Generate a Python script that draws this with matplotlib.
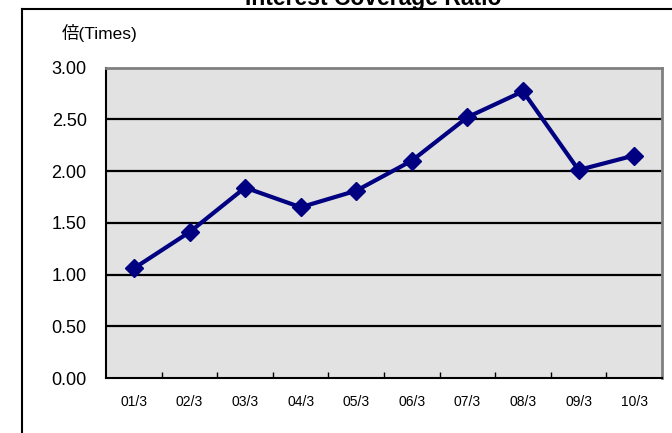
import numpy as np
from matplotlib import pyplot as plt
from matplotlib.lines import Line2D

plt.rcParams['font.family'] = ['Liberation Sans', 'Noto Sans CJK JP', 'DejaVu Sans']

periods = ['01/3', '02/3', '03/3', '04/3', '05/3', '06/3', '07/3', '08/3', '09/3', '10/3']
coverage = [1.06, 1.41, 1.84, 1.65, 1.81, 2.10, 2.52, 2.77, 2.01, 2.15]
y_ticks = [0.0, 0.5, 1.0, 1.5, 2.0, 2.5, 3.0]

fig = plt.figure(figsize=(6.72, 4.33), dpi=100)
ax = fig.add_axes([0.158, 0.127, 0.827, 0.717])

x = np.arange(len(periods))
ax.set_facecolor('#e2e2e2')
for yv in y_ticks[1:-1]:
    ax.axhline(yv, color='black', lw=1.6, zorder=1)

ax.plot(x, coverage, color='#000080', lw=3, marker='D', markersize=9,
        markeredgecolor='#000080', zorder=3, clip_on=False)

ax.set_xlim(-0.5, len(periods) - 0.5)
ax.set_ylim(0, 3)
ax.set_yticks(y_ticks)
ax.set_yticklabels([f'{v:.2f}' for v in y_ticks], fontsize=13)
ax.set_xticks(x)
ax.set_xticklabels(periods, fontsize=10)
ax.tick_params(axis='x', length=0, pad=12)
ax.tick_params(axis='y', length=0, pad=14)

# category boundary ticks on the bottom axis
ax.set_xticks(np.arange(0.5, len(periods) - 0.5, 1), minor=True)
ax.tick_params(axis='x', which='minor', direction='in', length=4, width=1)

ax.spines['left'].set_color('black')
ax.spines['left'].set_linewidth(1.5)
ax.spines['bottom'].set_color('black')
ax.spines['bottom'].set_linewidth(1.5)
ax.spines['top'].set_color('#808080')
ax.spines['top'].set_linewidth(2)
ax.spines['right'].set_color('#808080')
ax.spines['right'].set_linewidth(2)

fig.text(0.092, 0.924, '倍(Times)', fontsize=12.5, va='center', ha='left')
fig.text(0.555, 1.004, 'Interest Coverage Ratio', fontsize=16.5, fontweight='bold',
         ha='center', va='center')

# outer chart frame
fig.add_artist(Line2D([0.033, 0.033], [0.0, 0.980], color='black', lw=1.5,
                      transform=fig.transFigure))
fig.add_artist(Line2D([0.033, 1.0], [0.980, 0.980], color='black', lw=1.5,
                      transform=fig.transFigure))

fig.savefig('out.png', dpi=100)
